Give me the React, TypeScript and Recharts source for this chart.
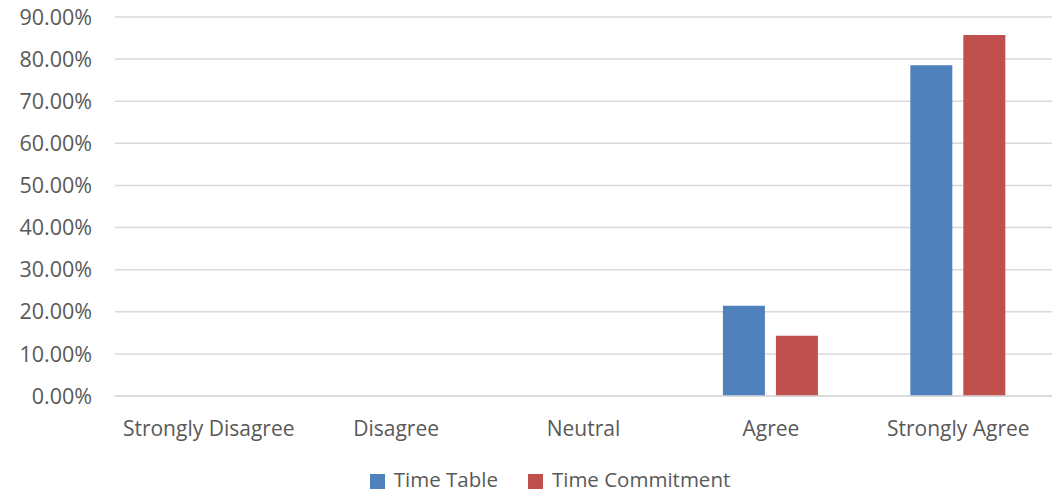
import React from 'react'
import { BarChart, Bar, XAxis, YAxis, CartesianGrid, Legend } from 'recharts'

const categories = ['Strongly Disagree', 'Disagree', 'Neutral', 'Agree', 'Strongly Agree']
const timeTable = [0, 0, 0, 0.2143, 0.7857]
const timeCommitment = [0, 0, 0, 0.1429, 0.8571]
const yTicks = [0, 0.1, 0.2, 0.3, 0.4, 0.5, 0.6, 0.7, 0.8, 0.9]
const seriesOrder = ['Time Table', 'Time Commitment']

const data = categories.map((name, i) => ({
  name,
  timeTable: timeTable[i],
  timeCommitment: timeCommitment[i],
}))

const FONT = '"Open Sans", sans-serif'
const TEXT = '#595959'

export default function App() {
  return (
    <div style={{ fontFamily: FONT, marginTop: -8 }}>
      <BarChart
        width={1053}
        height={493}
        data={data}
        margin={{ top: 17, right: 9, left: 0, bottom: 0 }}
        barCategoryGap="24.4%"
        barGap={11}
      >
        <CartesianGrid vertical={false} stroke="#d9d9d9" strokeWidth={1.5} />
        <XAxis
          dataKey="name"
          axisLine={{ stroke: '#d9d9d9', strokeWidth: 1.5 }}
          tickLine={false}
          tickSize={0}
          tickMargin={25}
          height={67}
          tick={{ fill: TEXT, fontSize: 21, fontFamily: FONT }}
          interval={0}
        />
        <YAxis
          width={107}
          domain={[0, 0.9]}
          ticks={yTicks}
          axisLine={false}
          tickLine={false}
          tickSize={0}
          tickMargin={23}
          tick={{ fill: TEXT, fontSize: 21.5, fontFamily: FONT }}
          tickFormatter={(v) => `${(v * 100).toFixed(2)}%`}
        />
        <Legend
          verticalAlign="bottom"
          iconType="square"
          iconSize={15}
          itemSorter={(item) => seriesOrder.indexOf(String(item.value))}
          wrapperStyle={{ fontSize: 20.5, fontFamily: FONT, color: TEXT, paddingLeft: 35, height: 30, lineHeight: '30px', top: 464 }}
          formatter={(value) => <span style={{ color: TEXT, paddingLeft: 5, marginRight: 20 }}>{value}</span>}
        />
        <Bar dataKey="timeTable" name="Time Table" fill="#4f81bd" isAnimationActive={false} />
        <Bar dataKey="timeCommitment" name="Time Commitment" fill="#c0504d" isAnimationActive={false} />
      </BarChart>
    </div>
  )
}
